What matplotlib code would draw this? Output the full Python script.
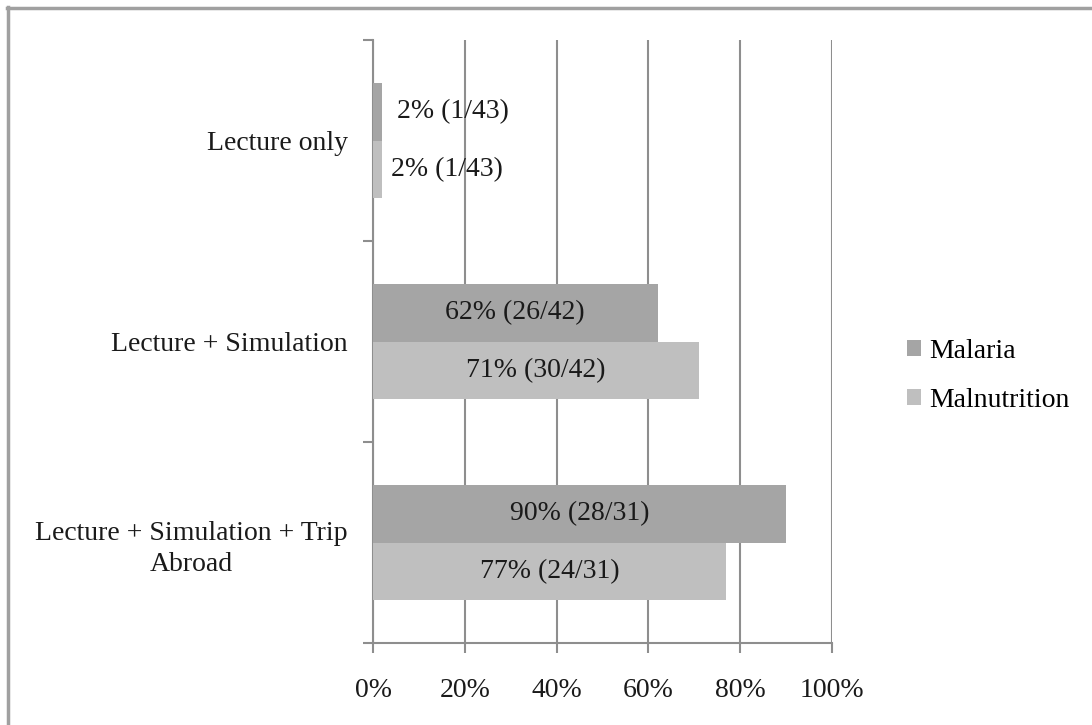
import matplotlib.pyplot as plt
from matplotlib.lines import Line2D
from matplotlib.ticker import FuncFormatter, FixedLocator

# ---------- data ----------
categories = ["Lecture only", "Lecture + Simulation", "Lecture + Simulation + Trip\nAbroad"]
series_names = ["Malaria", "Malnutrition"]
malaria = [2, 62, 90]
malnutrition = [2, 71, 77]
malaria_counts = ["1/43", "26/42", "28/31"]
malnutrition_counts = ["1/43", "30/42", "24/31"]
x_ticks = [0, 20, 40, 60, 80, 100]

colors = ["#a5a5a5", "#bfbfbf"]
grid_col = "#8e8e8e"
text_col = "#1a1a1a"

plt.rcParams["font.family"] = ["Liberation Serif", "DejaVu Serif"]
FS = 20

fig = plt.figure(figsize=(10.92, 7.25), dpi=100)
ax = fig.add_axes([373 / 1092, 1 - 643 / 725, (832 - 373) / 1092, (643 - 40) / 725])

h = 0.2875
ypos = list(range(len(categories)))
series = [(malaria, malaria_counts), (malnutrition, malnutrition_counts)]
for k, (vals, counts) in enumerate(series):
    off = -h / 2 if k == 0 else h / 2
    ys = [y + off for y in ypos]
    bars = ax.barh(ys, vals, height=h, color=colors[k], label=series_names[k], zorder=3)
    for b, v, c in zip(bars, vals, counts):
        txt = f"{v}% ({c})"
        yc = b.get_y() + b.get_height() / 2
        if v < 10:
            # small bar: label sits outside, to the right
            ax.annotate(txt, (v, yc), xytext=(11 if k == 0 else 6, 0), textcoords="offset points",
                        ha="left", va="center", fontsize=FS, color=text_col, zorder=2)
        else:
            ax.text(v / 2, yc, txt, ha="center", va="center", fontsize=FS, color=text_col, zorder=4)

ax.set_xlim(0, 100)
ax.set_ylim(2.5, -0.5)
ax.xaxis.set_major_locator(FixedLocator(x_ticks))
ax.xaxis.set_major_formatter(FuncFormatter(lambda v, p: f"{v:.0f}%"))
ax.grid(axis="x", color=grid_col, linewidth=1.5, zorder=2.5)
ax.tick_params(axis="x", length=7, width=1.5, color=grid_col, labelsize=FS, labelcolor=text_col, pad=18)

ax.set_yticks([-0.5, 0.5, 1.5, 2.5])
ax.set_yticklabels([])
ax.set_yticks(ypos, minor=True)
ax.set_yticklabels(categories, minor=True, fontsize=FS, color=text_col,
                   multialignment="center", linespacing=1.35)
ax.tick_params(axis="y", which="major", length=7, width=1.5, color=grid_col)
ax.tick_params(axis="y", which="minor", length=0, pad=18)

for s in ["top", "right"]:
    ax.spines[s].set_visible(False)
for s in ["left", "bottom"]:
    ax.spines[s].set_color(grid_col)
    ax.spines[s].set_linewidth(1.5)

ax.legend(loc="center left", bbox_to_anchor=(907 / 1092, 1 - 376 / 725), bbox_transform=fig.transFigure,
          frameon=False, fontsize=FS, handlelength=0.5, handleheight=0.5, handletextpad=0.3,
          labelspacing=0.85, borderaxespad=0, borderpad=0)

# outer border (top and left only visible)
fig.add_artist(Line2D([7 / 1092, 1], [1 - 7.5 / 725, 1 - 7.5 / 725], color="#a0a0a0", lw=2.5, transform=fig.transFigure))
fig.add_artist(Line2D([7.5 / 1092, 7.5 / 1092], [0, 1 - 7 / 725], color="#a0a0a0", lw=2.5, transform=fig.transFigure))

fig.savefig("out.png", dpi=100)
